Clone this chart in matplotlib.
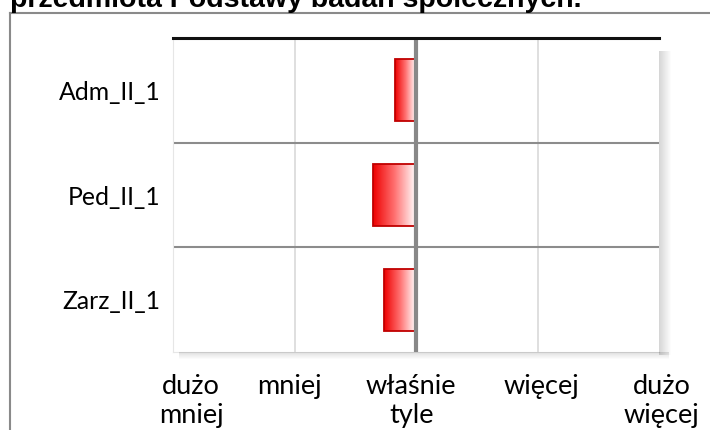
import numpy as np
import matplotlib
matplotlib.use("Agg")
import matplotlib.pyplot as plt
from matplotlib.colors import LinearSegmentedColormap
from matplotlib.patches import Rectangle

# data
groups = ["Adm_II_1", "Ped_II_1", "Zarz_II_1"]
values = [-0.17, -0.35, -0.26]
scale_labels = ["dużo\nmniej", "mniej", "właśnie\ntyle", "więcej", "dużo\nwięcej"]
title = "przedmiota Podstawy badań społecznych."

plt.rcParams['font.family'] = ['Lato', 'DejaVu Sans']

fig = plt.figure(figsize=(7.1, 4.3), dpi=100)
W, H = 710, 430

# outer frame (only left and top visible)
fig.add_artist(plt.Line2D([10 / W, 10 / W], [0, 1 - 13 / H], color='#8a8a8a', lw=1.5))
fig.add_artist(plt.Line2D([10 / W, 1], [1 - 13 / H, 1 - 13 / H], color='#8a8a8a', lw=1.5))

# title, clipped by the top of the picture
fig.text(10 / W, 1 - 7 / H, title, fontsize=20.5, fontweight='bold',
         family=['Liberation Sans', 'DejaVu Sans'], va='baseline', ha='left')

left, right, top, bottom = 173, 659, 38, 352
ax = fig.add_axes([left / W, 1 - bottom / H, (right - left) / W, (bottom - top) / H])

# shadow on the right and at the bottom of the plot area
for i in range(12):
    a = 0.16 * (1 - i / 12)
    fig.add_artist(Rectangle(((right + i) / W, 1 - (bottom + 3) / H), 1.1 / W,
                             (bottom - top - 10) / H, color='black', alpha=a, lw=0))
for i in range(7):
    a = 0.12 * (1 - i / 7)
    fig.add_artist(Rectangle(((left + 6) / W, 1 - (bottom + i + 1) / H), (right - left + 4) / W,
                             1.1 / H, color='black', alpha=a, lw=0))

ax.set_xlim(-2, 2)
ax.set_ylim(-0.5, len(groups) - 0.5)
ypos = np.arange(len(groups))[::-1]

cmap = LinearSegmentedColormap.from_list('rw', ['#ee0000', '#ff7070', '#ffffff'])
grad = np.linspace(0, 1, 256).reshape(1, -1)
bh = 0.59
for y, v in zip(ypos, values):
    ax.imshow(grad, cmap=cmap, aspect='auto', extent=[v, 0, y - bh / 2, y + bh / 2],
              interpolation='bilinear', zorder=2)
bars = ax.barh(ypos, values, height=bh, facecolor='none', edgecolor='#c00000', lw=1.3, zorder=3)

for x in [-1, 1]:
    ax.axvline(x, color='#d9d9d9', lw=1.2, zorder=1)
for y in [0.5, 1.5]:
    ax.axhline(y, color='#8c8c8c', lw=1.5, zorder=1)
ax.axvline(0, color='#888888', lw=3, zorder=4)
ax.axhline(len(groups) - 0.5, color='#111111', lw=2.2, zorder=5, clip_on=False)

for s in ax.spines.values():
    s.set_visible(False)
ax.spines['left'].set_visible(True)
ax.spines['left'].set_color('#e6e6e6')
ax.spines['bottom'].set_visible(True)
ax.spines['bottom'].set_color('#e6e6e6')

ax.set_yticks(ypos)
ax.set_yticklabels(groups, fontsize=17.8)
ax.tick_params(axis='y', length=0, pad=9)
ax.set_xticks([])

# scale labels below the plot (placed like in the original text box)
label_x = [-1.85, -1.04, -0.04, 1.03, 2.02]
for lx, lab in zip(label_x, scale_labels):
    ax.text(lx, -0.5 - 22 / 104, lab, ha='center', va='top',
            fontsize=19.5, linespacing=1.2, clip_on=False)

fig.savefig('out.png', dpi=100)
